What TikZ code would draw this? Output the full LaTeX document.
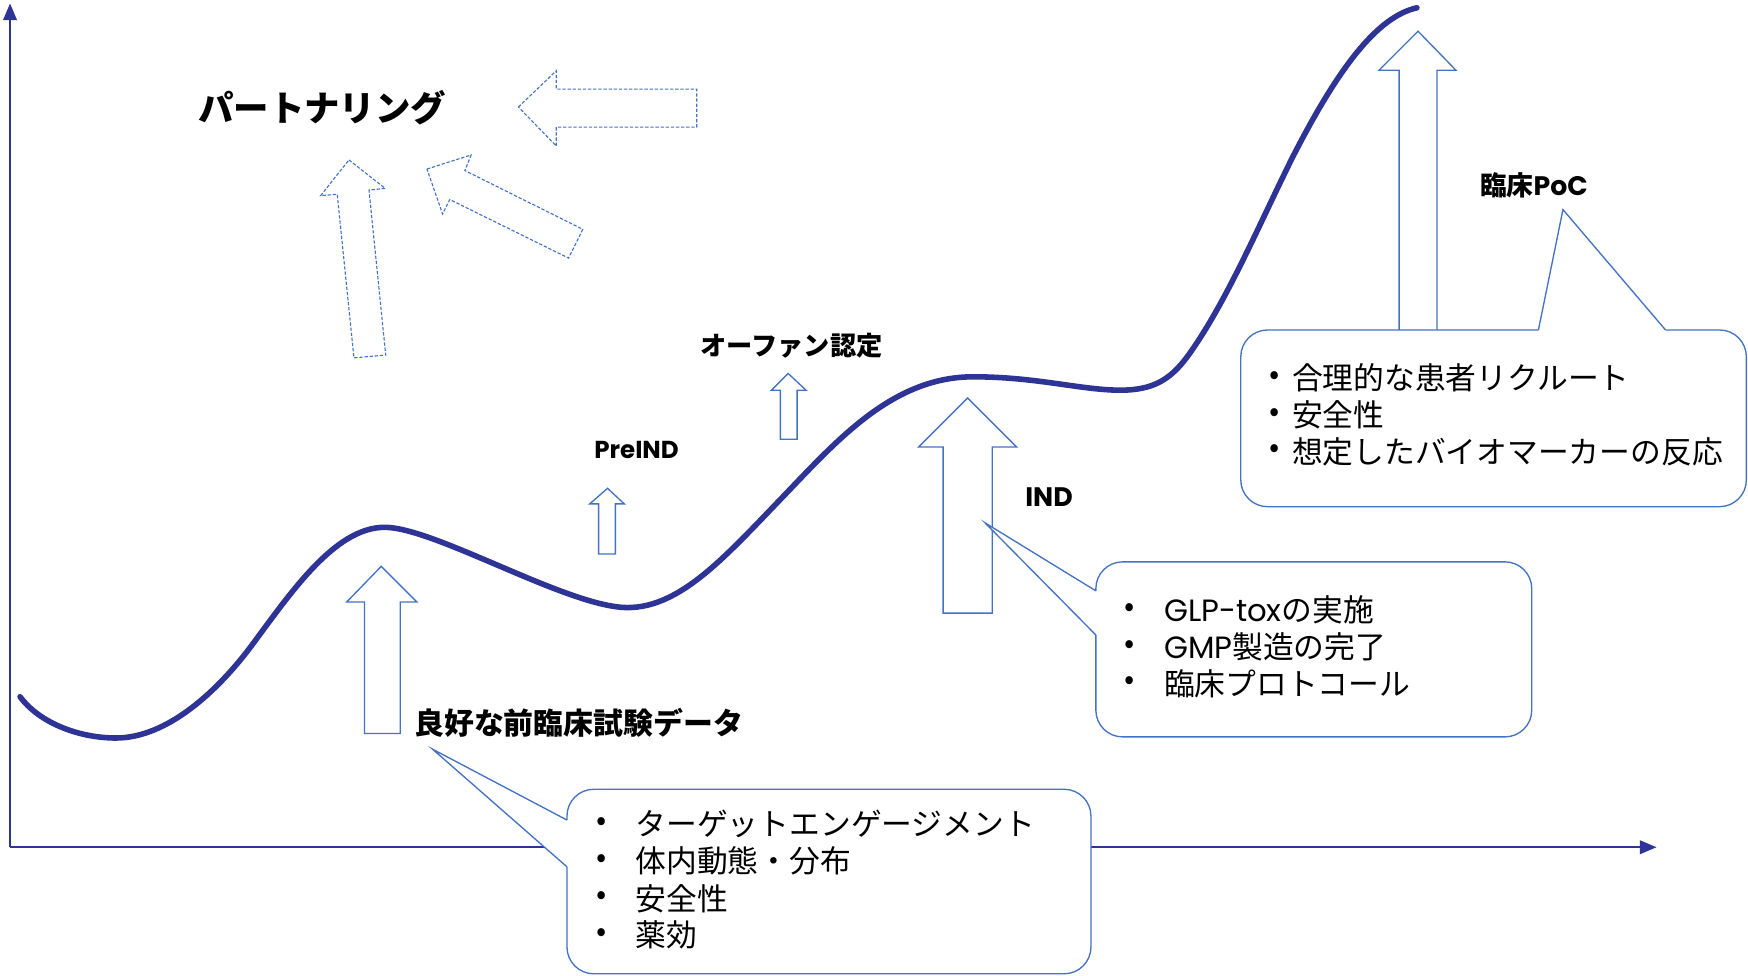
\documentclass[tikz,border=0pt]{standalone}
\usepackage{fontspec}
\setmainfont{Noto Sans CJK JP}
\newfontfamily\lat{Poppins}
\usetikzlibrary{arrows.meta}
\definecolor{navy}{RGB}{46,52,150}
\definecolor{ablue}{RGB}{68,114,196}
\begin{document}
\begin{tikzpicture}[x=1pt,y=-1pt,
 axisline/.style={draw=navy, line width=2.2pt, -{Triangle[length=15pt,width=12pt]}},
 curveline/.style={draw=navy, line width=5pt, line cap=round},
 blockarrow/.style={draw=ablue, line width=1.2pt, fill=white, line join=miter},
 dasharrow/.style={draw=ablue, line width=1pt, dash pattern=on 3pt off 1.6pt},
 callbox/.style={draw=ablue, line width=1.2pt, fill=white, rounded corners=24pt},
 pointer/.style={draw=ablue, line width=1.2pt},
 lbl/.style={inner sep=0pt},
 item/.style={inner sep=0pt, anchor=west, font=\fontsize{27.6}{32}\selectfont},
 bul/.style={inner sep=0pt, font=\fontsize{27}{32}\selectfont},
]
\useasboundingbox (0,0) rectangle (1568,875);
\fill[white] (0,0) rectangle (1568,875);

% axes
\coordinate (origin) at (9,760);
\coordinate (ytop) at (9,3);
\coordinate (xend) at (1486,760);
\draw[axisline] (origin) -- (ytop);
\draw[axisline] (origin) -- (xend);

% curve
\draw[curveline] (18,625) .. controls (35,648) and (70,662) .. (104,662)
  .. controls (150,662) and (195,620) .. (225,580)
  .. controls (260,533) and (300,473) .. (345,473)
  .. controls (390,473) and (510,545) .. (563,545)
  .. controls (610,545) and (650,500) .. (700,448)
  .. controls (750,396) and (800,338) .. (873,338)
  .. controls (930,338) and (970,350) .. (1005,350)
  .. controls (1035,350) and (1050,340) .. (1065,320)
  .. controls (1100,272) and (1130,200) .. (1160,140)
  .. controls (1200,62) and (1235,15) .. (1271,7);

% block arrows
\draw[blockarrow] (342,508) -- (374,540) -- (359,540) -- (359,658) -- (327,658) -- (327,540) -- (311,540) -- cycle;
\draw[blockarrow] (545,438) -- (560,452) -- (552,452) -- (552,497) -- (537,497) -- (537,452) -- (529,452) -- cycle;
\draw[blockarrow] (707,335) -- (723,350) -- (715,350) -- (715,394) -- (700,394) -- (700,350) -- (692,350) -- cycle;
\draw[blockarrow] (868,357) -- (912,401) -- (890,401) -- (890,550) -- (846,550) -- (846,401) -- (824,401) -- cycle;
\draw[blockarrow] (1272,28) -- (1306,63) -- (1289,63) -- (1289,300) -- (1255,300) -- (1255,63) -- (1237,63) -- cycle;

% dashed arrows
\draw[dasharrow] (465,96) -- (499,63.5) -- (499,80) -- (625,80) -- (625,114) -- (499,114) -- (499,131) -- cycle;
\draw[dasharrow] (313,143.5) -- (345.5,169) -- (331,170.5) -- (346,318.5) -- (317.5,321) -- (302.5,174.3) -- (287.6,175.5) -- cycle;
\draw[dasharrow] (383,151.6) -- (422.6,139) -- (417,153) -- (522.8,205.7) -- (510,231.5) -- (403.5,179) -- (397,192) -- cycle;

% callout 1
\coordinate (t1) at (388,672);
\coordinate (p1a) at (508.6,735.6);
\coordinate (p1b) at (508.6,777.6);
\draw[callbox] (508.6,708) rectangle (978.6,873.5);
\fill[white] (t1) -- (p1a) -- (511,735.6) -- (511,777.6) -- (p1b) -- cycle;
\draw[pointer] (p1a) -- (t1) -- (p1b);

% callout 2
\coordinate (t2) at (883.6,469);
\coordinate (p2a) at (983,530);
\coordinate (p2b) at (983,569.6);
\draw[callbox] (983,504) rectangle (1374,661);
\fill[white] (t2) -- (p2a) -- (986,530) -- (986,569.6) -- (p2b) -- cycle;
\draw[pointer] (p2a) -- (t2) -- (p2b);

% callout 3
\coordinate (t3) at (1402,188);
\coordinate (p3a) at (1380,296);
\coordinate (p3b) at (1494,296);
\draw[callbox] (1113,296) rectangle (1566.5,454.5);
\fill[white] (t3) -- (p3a) -- (1380,299) -- (1494,299) -- (p3b) -- cycle;
\draw[pointer] (p3a) -- (t3) -- (p3b);

% labels
\node[lbl, font=\fontsize{31.8}{36}\selectfont\bfseries] (partner) at (289,97) {パートナリング};
\node[lbl, font=\fontsize{23.5}{28}\selectfont\bfseries] (orphan) at (710,310) {オーファン認定};
\node[lbl, font=\fontsize{22}{26}\selectfont\lat\bfseries] (preind) at (571,404) {PreIND};
\node[lbl, font=\fontsize{24}{28}\selectfont\lat\bfseries] (ind) at (941,446) {IND};
\node[lbl, font=\fontsize{24}{28}\selectfont\bfseries] (poc) at (1376,166) {臨床{\lat PoC}};
\node[lbl, font=\fontsize{26.8}{30}\selectfont\bfseries] (preclin) at (519,648) {良好な前臨床試験データ};

% callout 1 items
\node[bul] (b11) at (540,739) {•};
\node[bul] (b12) at (540,772) {•};
\node[bul] (b13) at (540,806) {•};
\node[bul] (b14) at (540,839) {•};
\node[item] (i11) at (570,739) {ターゲットエンゲージメント};
\node[item] (i12) at (570,772) {体内動態・分布};
\node[item] (i13) at (570,806) {安全性};
\node[item] (i14) at (570,839) {薬効};

% callout 2 items
\node[bul] (b21) at (1013,547) {•};
\node[bul] (b22) at (1013,580) {•};
\node[bul] (b23) at (1013,613) {•};
\node[item] (i21) at (1044,547) {{\lat GLP-tox}の実施};
\node[item] (i22) at (1044,580) {{\lat GMP}製造の完了};
\node[item] (i23) at (1044,613) {臨床プロトコール};

% callout 3 items
\node[bul] (b31) at (1143.5,339) {•};
\node[bul] (b32) at (1143.5,372) {•};
\node[bul] (b33) at (1143.5,405) {•};
\node[item] (i31) at (1158.8,339) {合理的な患者リクルート};
\node[item] (i32) at (1158.8,372) {安全性};
\node[item] (i33) at (1158.8,405) {想定したバイオマーカーの反応};
\end{tikzpicture}
\end{document}
